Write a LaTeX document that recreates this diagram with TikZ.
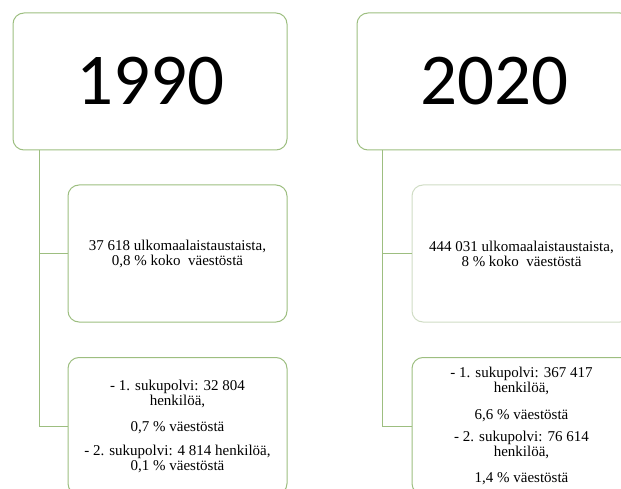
\documentclass[tikz,border=0pt]{standalone}
\usepackage{fontspec}
\setmainfont{Liberation Serif}
\newfontfamily\yearfont{Carlito}
\usepackage{xcolor}
\usetikzlibrary{positioning,calc}
\definecolor{boxgreen}{HTML}{9DBE80}
\definecolor{palegreen}{HTML}{CFDCC4}

\begin{document}
\begin{tikzpicture}[x=1pt,y=-1pt,
    every node/.style={font=\fontsize{15}{15}\selectfont},
    yearbox/.style={draw=boxgreen,line width=1pt,rounded corners=11pt,minimum width=274pt,minimum height=137pt,font=\fontsize{73}{73}\yearfont},
    infobox/.style={draw=boxgreen,line width=1pt,rounded corners=11pt,minimum width=219pt,minimum height=137pt,align=center},
    link/.style={draw=boxgreen,line width=1pt}]
  \useasboundingbox (0,0) rectangle (621,489);
  \clip (0,0) rectangle (621,489);
  % 1990 column
  \node[yearbox] (y1990) at (150,81.5) {1990};
  \node[infobox] (m1990) at (177.5,253.5) {37 618 ulkomaalaistaustaista,\\0,8 \% koko \ väestöstä};
  \node[infobox] (b1990) at (177.5,426) {- 1. sukupolvi: 32 804\\henkilöä,\\[11pt]0,7 \% väestöstä\\[9pt]- 2. sukupolvi: 4 814 henkilöä,\\0,1 \% väestöstä};
  \draw[link] ([xshift=27pt]y1990.south west) |- (m1990.west);
  \draw[link] ([xshift=27pt]y1990.south west) |- (b1990.west);
  % 2020 column
  \node[yearbox] (y2020) at (494,81.5) {2020};
  \node[infobox,draw=palegreen] (m2020) at (521.5,253.5) {444 031 ulkomaalaistaustaista,\\8 \% koko \ väestöstä};
  \node[infobox] (b2020) at (521.5,426) {- 1. sukupolvi: 367 417\\henkilöä,\\[12pt]6,6 \% väestöstä\\[7pt]- 2. sukupolvi: 76 614\\henkilöä,\\[11pt]1,4 \% väestöstä};
  \draw[link] ([xshift=26pt]y2020.south west) |- (m2020.west);
  \draw[link] ([xshift=26pt]y2020.south west) |- (b2020.west);
\end{tikzpicture}
\end{document}
